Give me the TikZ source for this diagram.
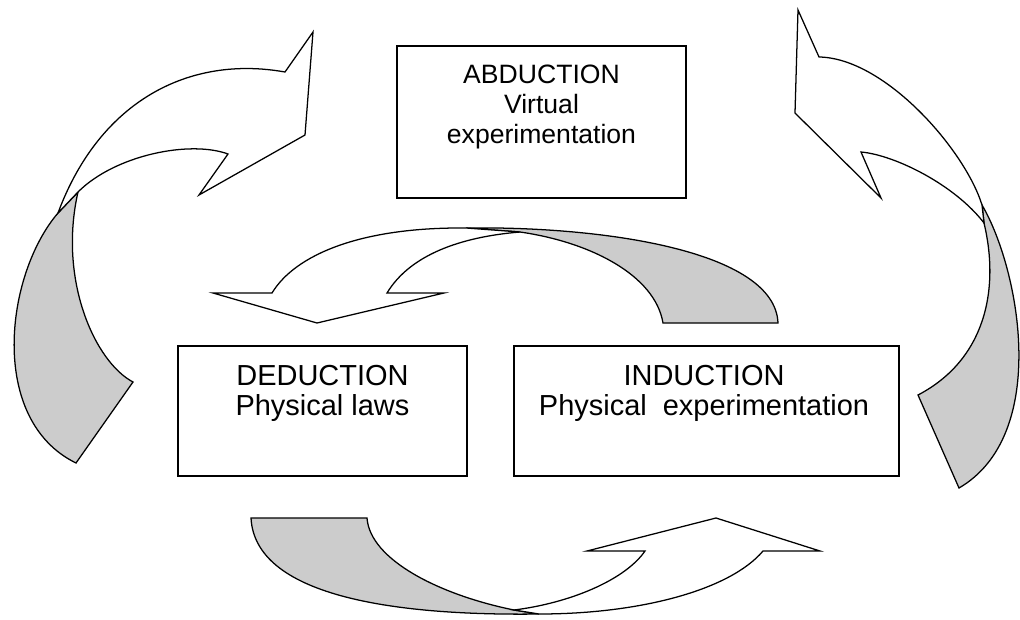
\documentclass[tikz,border=0pt]{standalone}
\usepackage{fontspec}
\setmainfont{Liberation Sans}
\usepackage{tikz}
\definecolor{backgray}{RGB}{204,204,204}

\begin{document}
\begin{tikzpicture}[x=0.025cm,y=-0.025cm,
	box/.style={draw,line width=0.9pt,minimum height=3.25cm,inner sep=0pt},
	boxtext/.style={anchor=north,align=center,inner sep=0pt,font={\fontsize{20.6}{21.3}\selectfont}},
	ribbon/.style={draw,line width=0.9pt,fill=white},
	backside/.style={draw,line width=0.9pt,fill=backgray}]
	\useasboundingbox (0,0) rectangle (1020,619);

	\node[box,minimum width=7.225cm,minimum height=3.8cm] (abd) at (541.5,122) {};
	\node[box,minimum width=7.225cm] (ded) at (322.5,411) {};
	\node[box,minimum width=9.625cm] (ind) at (706.5,411) {};
	\node[boxtext,font={\fontsize{18.9}{21.3}\selectfont}] (abdtext) at (541.5,65) {ABDUCTION\\Virtual\\experimentation};
	\node[boxtext] (dedtext) at (322.5,365) {DEDUCTION\\Physical laws};
	\node[boxtext] (indtext) at (704,365) {INDUCTION\\Physical\ \ experimentation};

	% upper left
	\filldraw[backside] (58,213) .. controls (5,275) and (-12,420) .. (76,463) -- (133,382)
		.. controls (95,362) and (58,280) .. (78,192) -- cycle;
	\filldraw[ribbon] (58,213) .. controls (100,100) and (190,55) .. (285,72) -- (313,32) -- (305,135)
		-- (199,195) -- (228,154) .. controls (190,140) and (115,155) .. (78,192) -- cycle;

	% upper right
	\filldraw[backside] (982,205) .. controls (1020,270) and (1050,435) .. (959,488) -- (918,395)
		.. controls (985,360) and (1000,290) .. (984,223) -- cycle;
	\filldraw[ribbon] (982,205) .. controls (965,150) and (885,58) .. (819,57) -- (798,10) -- (795,113)
		-- (881,198) -- (861,152) .. controls (895,155) and (955,185) .. (984,223) -- cycle;

	% middle
	\filldraw[backside] (466,228) .. controls (600,226) and (775,250) .. (778,323) -- (663,323)
		.. controls (655,275) and (590,242) .. (520,232) -- cycle;
	\filldraw[ribbon] (466,228) .. controls (360,227) and (295,255) .. (272,293) -- (213,293) -- (317,323)
		-- (444,293) -- (387,293) .. controls (410,255) and (460,237) .. (520,232) -- cycle;

	% bottom
	\filldraw[backside] (251,518) .. controls (255,595) and (390,616) .. (539,614) -- (514,610)
		.. controls (440,595) and (370,560) .. (367,518) -- cycle;
	\filldraw[ribbon] (539,614) .. controls (640,614) and (730,590) .. (763,551) -- (820,551) -- (716,518)
		-- (587,551) -- (645,551) .. controls (625,580) and (570,603) .. (514,610) -- cycle;
\end{tikzpicture}
\end{document}
